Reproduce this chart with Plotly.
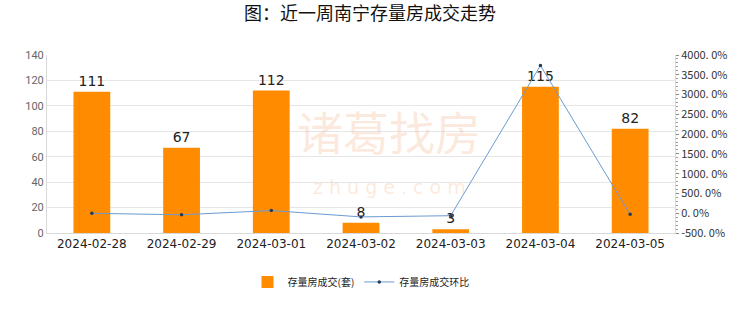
import plotly.graph_objects as go

dates = ["2024-02-28", "2024-02-29", "2024-03-01", "2024-03-02", "2024-03-03", "2024-03-04", "2024-03-05"]
volume = [111, 67, 112, 8, 3, 115, 82]
ratio = [-2.0, -39.6, 67.2, -92.9, -62.5, 3733.3, -28.7]
right_ticks = [-500, 0, 500, 1000, 1500, 2000, 2500, 3000, 3500, 4000]
right_labels = [f"{v}. 0%" for v in right_ticks]
left_ticks = [0, 20, 40, 60, 80, 100, 120, 140]

fig = go.Figure()
fig.add_trace(go.Bar(
    x=dates, y=volume, name="存量房成交(套)",
    marker=dict(color="#FF8C00", line=dict(width=0)),
    width=0.41,
    text=[str(v) for v in volume], textposition="outside",
    textfont=dict(size=14, color="#222", family="DejaVu Sans"),
    cliponaxis=False,
))
fig.add_trace(go.Scatter(
    x=dates, y=ratio, name="存量房成交环比", yaxis="y2",
    mode="lines+markers",
    line=dict(color="#6A9BD1", width=1),
    marker=dict(color="#1F3B5C", size=3.5),
))

# watermark
fig.add_annotation(xref="paper", yref="paper", x=0.545, y=0.58, text="诸葛找房",
                   showarrow=False, yanchor="middle",
                   font=dict(size=46, color="rgba(245,170,120,0.25)", family="Noto Sans CJK SC"))
fig.add_annotation(xref="paper", yref="paper", x=0.545, y=0.26, text="z h u g e . c o m",
                   showarrow=False, yanchor="middle",
                   font=dict(size=19, color="rgba(245,170,120,0.25)", family="DejaVu Sans"))

fig.update_layout(
    width=740, height=312,
    margin=dict(l=47, r=65, t=55, b=79),
    paper_bgcolor="white", plot_bgcolor="white",
    title=dict(text="图：近一周南宁存量房成交走势", x=0.5, xanchor="center", y=0.955, yanchor="middle",
               font=dict(size=18, color="#111", family="Noto Sans CJK SC")),
    font=dict(family="Noto Sans CJK SC", size=11, color="#333"),
    xaxis=dict(type="category", showgrid=False, showline=True, linecolor="#d9d9d9",
               tickfont=dict(size=12, color="#222", family="DejaVu Sans"), ticks=""),
    yaxis=dict(range=[0, 140], tickvals=left_ticks, showgrid=True, gridcolor="#e6e6e6",
               showline=True, linecolor="#d9d9d9", zeroline=False,
               tickfont=dict(size=11, color="#666", family="Roboto")),
    yaxis2=dict(overlaying="y", side="right", range=[-500, 4000],
                tickvals=right_ticks, ticktext=right_labels, showgrid=False, zeroline=False,
                showline=True, linecolor="#d9d9d9", ticks="outside", ticklen=3, tickcolor="#888",
                minor=dict(ticks="outside", ticklen=2, tickcolor="#999", dtick=100),
                tickfont=dict(size=11, color="#333", family="Noto Sans CJK JP")),
    legend=dict(orientation="h", x=0.5, xanchor="center", y=-0.275, yanchor="middle",
                font=dict(size=10, color="#222"), itemwidth=30),
    showlegend=True,
)
fig.write_html("out.html")
